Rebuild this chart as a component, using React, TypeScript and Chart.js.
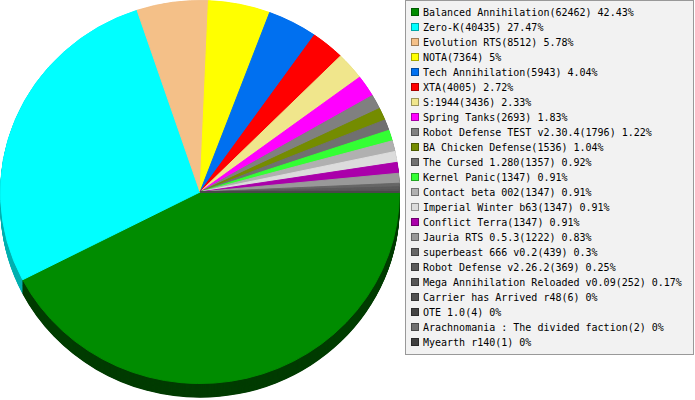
import React, { useEffect, useRef } from "react";
import { Chart, ArcElement, PieController } from "chart.js";

Chart.register(ArcElement, PieController);

const games: string[] = [
  "Balanced Annihilation",
  "Zero-K",
  "Evolution RTS",
  "NOTA",
  "Tech Annihilation",
  "XTA",
  "S:1944",
  "Spring Tanks",
  "Robot Defense TEST v2.30.4",
  "BA Chicken Defense",
  "The Cursed 1.280",
  "Kernel Panic",
  "Contact beta 002",
  "Imperial Winter b63",
  "Conflict Terra",
  "Jauria RTS 0.5.3",
  "superbeast 666 v0.2",
  "Robot Defense v2.26.2",
  "Mega Annihilation Reloaded v0.09",
  "Carrier has Arrived r48",
  "OTE 1.0",
  "Arachnomania : The divided faction",
  "Myearth r140",
];

const players: number[] = [
  62462, 40435, 8512, 7364, 5943, 4005, 3436, 2693, 1796, 1536, 1357, 1347,
  1347, 1347, 1347, 1222, 439, 369, 252, 6, 4, 2, 1,
];

const sliceColors: string[] = [
  "#008c00",
  "#00ffff",
  "#f4c088",
  "#ffff00",
  "#0070f0",
  "#ff0000",
  "#f0e68c",
  "#ff00ff",
  "#808080",
  "#748c00",
  "#707070",
  "#33ff33",
  "#b0b0b0",
  "#dcdcdc",
  "#aa00aa",
  "#999999",
  "#666666",
  "#5a5a5a",
  "#555555",
  "#505050",
  "#444444",
  "#707070",
  "#404040",
];

const sideColors: string[] = [
  "#003c00",
  "#00b0b0",
  "#a88450",
  "#b0b000",
  "#004ca8",
  "#b00000",
  "#a8a060",
  "#b000b0",
  "#585858",
  "#506000",
  "#4c4c4c",
  "#20b020",
  "#787878",
  "#989898",
  "#760076",
  "#686868",
  "#444444",
  "#3c3c3c",
  "#383838",
  "#343434",
  "#2c2c2c",
  "#4c4c4c",
  "#2a2a2a",
];

const SCALE_Y = 0.96;
const DEPTH = 14.5;

const total = players.reduce((a, b) => a + b, 0);
const percentLabels: string[] = players.map((v) =>
  String(Math.round((v / total) * 10000) / 100)
);

const pie3dPlugin = {
  id: "pie3d",
  beforeDatasetsDraw(chart: any) {
    const ctx = chart.ctx as CanvasRenderingContext2D;
    ctx.save();
    ctx.scale(1, SCALE_Y);
    const meta = chart.getDatasetMeta(0);
    for (let d = DEPTH; d >= 0.5; d -= 0.5) {
      meta.data.forEach((arc: any, i: number) => {
        const p = arc.getProps(
          ["x", "y", "startAngle", "endAngle", "outerRadius"],
          true
        );
        ctx.beginPath();
        ctx.moveTo(p.x, p.y + d);
        ctx.arc(p.x, p.y + d, p.outerRadius + 0.3, p.startAngle, p.endAngle);
        ctx.closePath();
        ctx.fillStyle = sideColors[i];
        ctx.fill();
      });
    }
  },
  afterDatasetsDraw(chart: any) {
    chart.ctx.restore();
  },
};

export default function App() {
  const ref = useRef<HTMLCanvasElement | null>(null);

  useEffect(() => {
    if (!ref.current) return;
    const chart = new Chart(ref.current, {
      type: "pie",
      data: {
        labels: games,
        datasets: [
          {
            data: players,
            backgroundColor: sliceColors,
            borderColor: sliceColors,
            borderWidth: 1,
          },
        ],
      },
      options: {
        responsive: false,
        animation: false,
        rotation: 90,
        layout: { padding: 0 },
        plugins: {},
        events: [],
      },
      plugins: [pie3dPlugin],
    });
    return () => chart.destroy();
  }, []);

  return (
    <div
      style={{
        position: "absolute",
        left: 0,
        top: 0,
        width: 695,
        height: 400,
        background: "#ffffff",
        overflow: "hidden",
      }}
    >
      <canvas
        ref={ref}
        width={400}
        height={400}
        style={{ position: "absolute", left: 0, top: 0 }}
      />
      <div
        style={{
          position: "absolute",
          left: 405,
          top: 0,
          width: 289,
          height: 355,
          boxSizing: "border-box",
          border: "1px solid #999999",
          background: "#f2f2f2",
          fontFamily: "'DejaVu Sans Mono', monospace",
          fontSize: 10,
          color: "#000",
        }}
      >
        {games.map((g, i) => (
          <div
            key={i}
            style={{
              position: "absolute",
              left: 0,
              top: 3.5 + 15 * i,
              height: 15,
              lineHeight: "15px",
              whiteSpace: "pre",
            }}
          >
            <span
              style={{
                position: "absolute",
                left: 5,
                top: 3.5,
                width: 8,
                height: 8,
                boxSizing: "border-box",
                background: sliceColors[i],
                border: "1px solid rgba(0,0,0,0.35)",
              }}
            />
            <span style={{ position: "absolute", left: 17, top: 0 }}>
              {`${g}(${players[i]}) ${percentLabels[i]}%`}
            </span>
          </div>
        ))}
      </div>
    </div>
  );
}
